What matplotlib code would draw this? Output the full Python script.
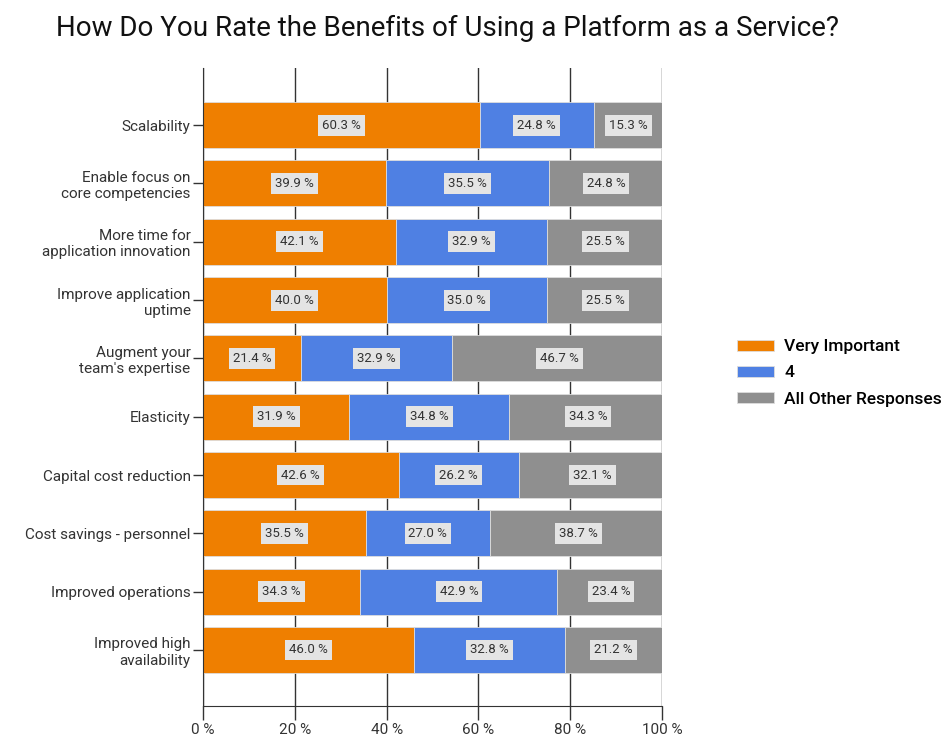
import numpy as np
import matplotlib.pyplot as plt

# Survey: benefits of Platform as a Service
categories = ["Scalability", "Enable focus on\ncore competencies",
              "More time for\napplication innovation", "Improve application\nuptime",
              "Augment your\nteam's expertise", "Elasticity", "Capital cost reduction",
              "Cost savings - personnel", "Improved operations",
              "Improved high\navailability"]
very_important = [60.3, 39.9, 42.1, 40.0, 21.4, 31.9, 42.6, 35.5, 34.3, 46.0]
four = [24.8, 35.5, 32.9, 35.0, 32.9, 34.8, 26.2, 27.0, 42.9, 32.8]
other = [15.3, 24.8, 25.5, 25.5, 46.7, 34.3, 32.1, 38.7, 23.4, 21.2]
series_names = ["Very Important", "4", "All Other Responses"]
colors = ["#ef7f00", "#4f80e3", "#8f8f8f"]

plt.rcParams['font.family'] = ['Roboto', 'DejaVu Sans']

fig = plt.figure(figsize=(9.46, 7.38), dpi=100)
ax = fig.add_axes([0.2146, 0.0434, 0.4852, 0.8645])

y = np.arange(len(categories))
left = np.zeros(len(categories))
for vals, name, col in zip([very_important, four, other], series_names, colors):
    vals = np.array(vals)
    ax.barh(y, vals, left=left, height=0.79, color=col, edgecolor="#dddddd",
            linewidth=0.6, label=name, zorder=2)
    for yi, l, v in zip(y, left, vals):
        ax.text(l + v / 2, yi, f"{v:.1f} %", ha="center", va="center",
                fontsize=9.5, color="#333333", zorder=3,
                bbox=dict(boxstyle="square,pad=0.3", fc="#e4e4e4", ec="none"))
    left = left + vals

ax.set_xlim(0, 100)
ax.set_ylim(9.96, -0.98)
ax.set_xticks([0, 20, 40, 60, 80, 100])
ax.set_xticklabels([f"{t} %" for t in [0, 20, 40, 60, 80, 100]], fontsize=11, color="#333333")
ax.set_yticks(y)
ax.set_yticklabels(categories, fontsize=11, color="#333333")
ax.xaxis.grid(True, color="#333333", linewidth=1, zorder=0)
ax.set_axisbelow(True)
ax.tick_params(axis="x", length=10, width=1, color="#333333", pad=2)
ax.tick_params(axis="y", length=7, width=1, color="#333333", pad=2)
for s in ["top", "right"]:
    ax.spines[s].set_visible(False)
for s in ["left", "bottom"]:
    ax.spines[s].set_color("#333333")

ax.legend(loc="center left", bbox_to_anchor=(1.13, 0.522), frameon=False,
          handlelength=2.1, handleheight=0.6, handletextpad=0.6,
          labelspacing=0.65, prop={"weight": "medium", "size": 12.5})

fig.text(0.473, 0.962, "How Do You Rate the Benefits of Using a Platform as a Service?",
         ha="center", va="center", fontsize=20, color="#111111")

fig.savefig("out.png", dpi=100)
